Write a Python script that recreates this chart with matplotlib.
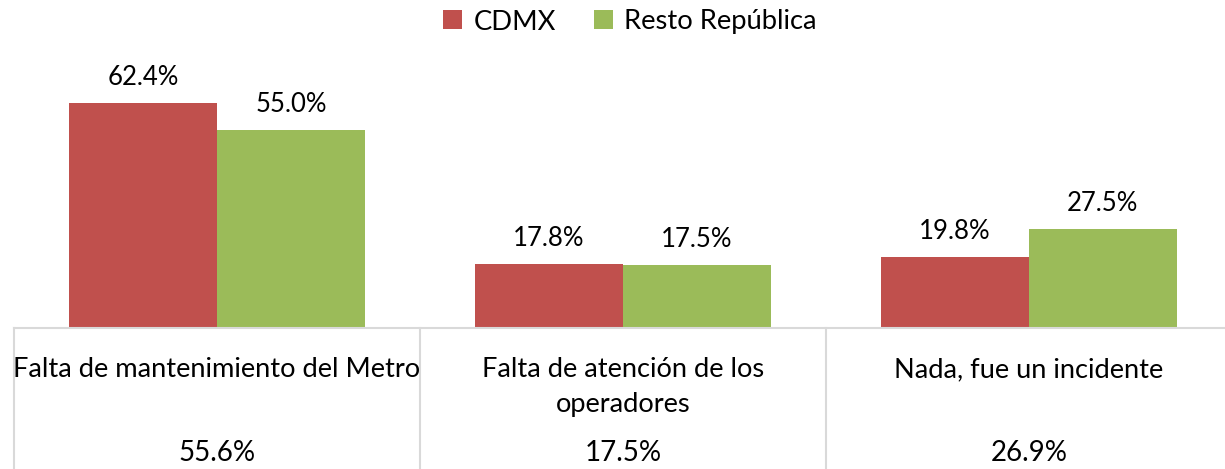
import matplotlib
matplotlib.use("Agg")
import matplotlib.pyplot as plt
import matplotlib.transforms as mtransforms
import numpy as np

categories = ["Falta de mantenimiento del Metro", "Falta de atención de los\noperadores", "Nada, fue un incidente"]
cdmx = [62.4, 17.8, 19.8]
resto = [55.0, 17.5, 27.5]
totals = ["55.6%", "17.5%", "26.9%"]

RED, GREEN, GRID = "#C0504D", "#9BBB59", "#D9D9D9"
plt.rcParams.update({"font.family": ["Lato", "DejaVu Sans"], "font.size": 17})

W, H = 1225, 469
fig = plt.figure(figsize=(W / 100, H / 100), dpi=100)
ymax = 70
ax = fig.add_axes([14 / W, (H - 328) / H, 1218 / W, ymax * 3.606 / H])
x = np.arange(len(categories))
bw = 0.364
b1 = ax.bar(x - bw / 2, cdmx, bw, color=RED, label="CDMX")
b2 = ax.bar(x + bw / 2, resto, bw, color=GREEN, label="Resto República")
for bars, vals in [(b1, cdmx), (b2, resto)]:
    for b, v in zip(bars, vals):
        ax.annotate(f"{v:.1f}%", (b.get_x() + b.get_width() / 2, v), xytext=(0, 9),
                    textcoords="offset points", ha="center", va="bottom", fontsize=18.5)
ax.set_xlim(-0.5, 2.5)
ax.set_ylim(0, ymax)
ax.axis("off")

# table-like area below the bars
tr = mtransforms.blended_transform_factory(ax.transData, fig.transFigure)
ax.plot([-0.5, 2.5], [(H - 328) / H] * 2, color=GRID, lw=1.5, transform=tr, clip_on=False)
for xb in [-0.5, 0.5, 1.5]:
    ax.plot([xb, xb], [0, (H - 328) / H], color=GRID, lw=1.5, transform=tr, clip_on=False)
for i, (c, t) in enumerate(zip(categories, totals)):
    ax.text(i, (H - 357) / H, c, ha="center", va="top", transform=tr, fontsize=19.6, linespacing=1.5)
    ax.text(i, (H - 453) / H, t, ha="center", va="center", transform=tr, fontsize=20)

fig.legend(handles=[b1, b2], loc="center", bbox_to_anchor=(630 / W, 1 - 22 / H), ncol=2,
           frameon=False, fontsize=19.7, handlelength=0.7, handleheight=0.7, handletextpad=0.4,
           columnspacing=1.4)
fig.savefig("out.png", dpi=100)
